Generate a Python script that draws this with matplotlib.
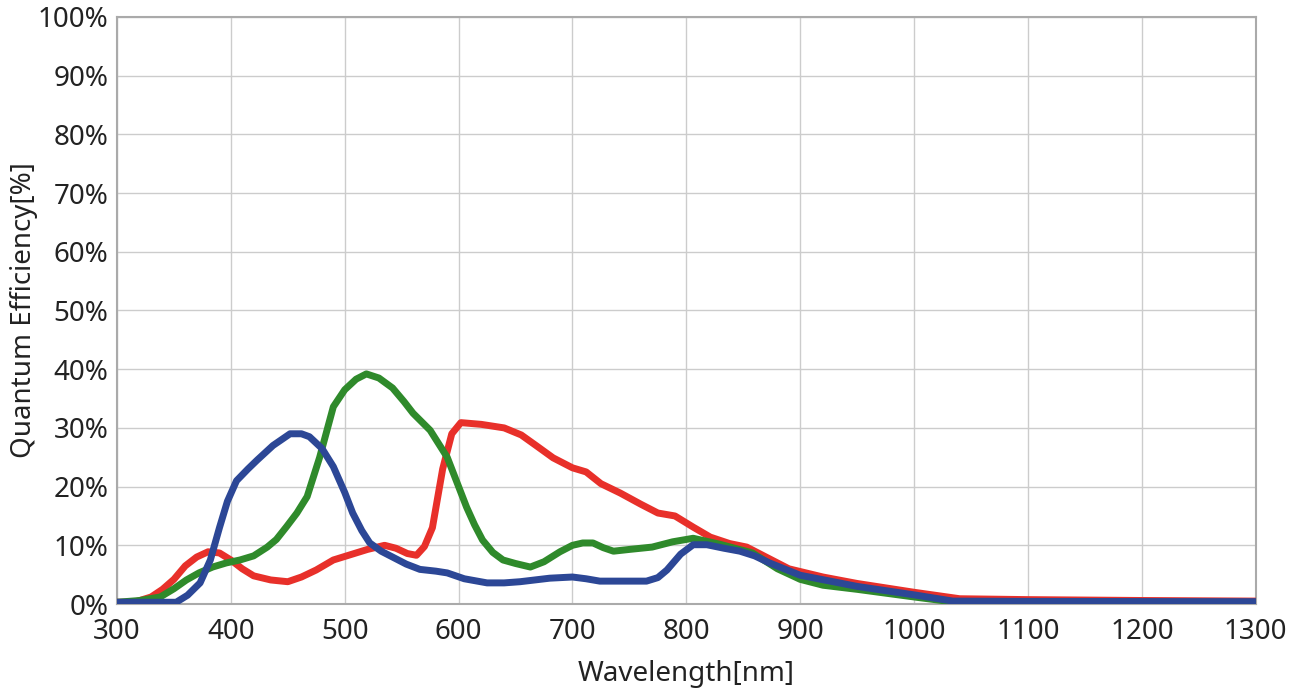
import matplotlib
matplotlib.use("Agg")
import matplotlib.pyplot as plt

# Wavelength (nm) and quantum efficiency (%) for each channel
red_wl = [300, 315, 330, 340, 350, 360, 370, 380, 390, 400, 410, 420, 435, 450, 462, 475, 490, 505, 520, 535,
          545, 555, 563, 570, 577, 586, 594, 602, 620, 640, 655, 668, 683, 700, 712, 725, 742, 760, 775, 790,
          806, 821, 838, 853, 870, 890, 920, 950, 1000, 1040, 1100, 1200, 1300]
red_qe = [0.3, 0.3, 1.2, 2.5, 4.2, 6.5, 8.0, 8.9, 8.7, 7.5, 6.0, 4.8, 4.1, 3.8, 4.6, 5.8, 7.5, 8.4, 9.3, 10.0,
          9.5, 8.6, 8.3, 9.8, 13.0, 23.0, 29.0, 30.9, 30.6, 30.0, 28.8, 27.0, 24.9, 23.2, 22.5, 20.5, 18.9, 17.0, 15.5, 15.0,
          13.1, 11.4, 10.3, 9.7, 8.0, 6.0, 4.6, 3.5, 2.0, 0.9, 0.75, 0.6, 0.5]

green_wl = [300, 320, 338, 350, 361, 372, 384, 396, 408, 420, 432, 440, 449, 458, 467, 478, 490, 500, 510, 519,
            530, 542, 552, 560, 575, 590, 600, 607, 614, 621, 630, 639, 650, 663, 675, 689, 700, 709, 718, 727,
            736, 750, 770, 788, 806, 829, 858, 880, 900, 920, 950, 1000, 1040, 1100, 1300]
green_qe = [0.3, 0.6, 1.2, 2.6, 4.1, 5.3, 6.3, 7.0, 7.5, 8.2, 9.7, 11.0, 13.2, 15.5, 18.3, 25.0, 33.6, 36.5, 38.3, 39.2,
            38.5, 36.8, 34.5, 32.5, 29.6, 25.0, 20.0, 16.5, 13.5, 10.9, 8.8, 7.5, 6.9, 6.3, 7.2, 8.9, 10.0, 10.4, 10.4, 9.6,
            9.0, 9.3, 9.7, 10.6, 11.2, 10.2, 8.7, 6.0, 4.2, 3.2, 2.5, 1.2, 0.2, 0.15, 0.1]

blue_wl = [300, 352, 362, 373, 382, 390, 397, 405, 415, 423, 437, 452, 462, 469, 480, 490, 500, 507, 515, 522,
           532, 542, 554, 566, 580, 590, 605, 625, 640, 654, 680, 700, 712, 724, 745, 765, 775, 783, 795, 806,
           818, 833, 847, 860, 873, 900, 950, 1002, 1034, 1100, 1300]
blue_qe = [0.3, 0.3, 1.5, 3.6, 7.5, 13.0, 17.5, 21.0, 23.0, 24.5, 27.0, 29.0, 29.0, 28.5, 26.5, 23.4, 19.0, 15.5, 12.5, 10.4,
           9.0, 8.0, 6.8, 5.9, 5.6, 5.3, 4.3, 3.6, 3.6, 3.8, 4.4, 4.6, 4.3, 3.9, 3.9, 3.9, 4.5, 5.8, 8.5, 10.1,
           10.1, 9.5, 9.0, 8.2, 7.0, 4.9, 3.0, 1.5, 0.5, 0.45, 0.4]

x_ticks = [300, 400, 500, 600, 700, 800, 900, 1000, 1100, 1200, 1300]
y_ticks = [0, 10, 20, 30, 40, 50, 60, 70, 80, 90, 100]
y_tick_labels = [f"{v}%" for v in y_ticks]

plt.rcParams['font.family'] = ['Noto Sans', 'DejaVu Sans']

fig = plt.figure(figsize=(13.04, 6.93), dpi=100)
ax = fig.add_axes([0.0897, 0.1284, 0.8733, 0.8471])

lw = 5.0
ax.plot(red_wl, red_qe, color='#e8302a', lw=lw, solid_capstyle='round', solid_joinstyle='round', zorder=3)
ax.plot(green_wl, green_qe, color='#2f8a2b', lw=lw, solid_capstyle='round', solid_joinstyle='round', zorder=4)
ax.plot(blue_wl, blue_qe, color='#2c4796', lw=lw, solid_capstyle='round', solid_joinstyle='round', zorder=5)

ax.set_xlim(300, 1300)
ax.set_ylim(0, 100)
ax.set_xticks(x_ticks)
ax.set_yticks(y_ticks)
ax.set_yticklabels(y_tick_labels)
ax.tick_params(axis='x', length=0, labelsize=20, colors='#222222', pad=10)
ax.tick_params(axis='y', length=0, labelsize=20, colors='#222222', pad=6)
ax.grid(True, color='#cccccc', lw=1.0)
ax.set_axisbelow(True)
for s in ax.spines.values():
    s.set_color('#aaaaaa')
    s.set_linewidth(1.5)

ax.set_xlabel('Wavelength[nm]', fontsize=20, color='#222222', labelpad=10)
ax.set_ylabel('Quantum Efficiency[%]', fontsize=20, color='#222222', labelpad=0)

fig.savefig('out.png', dpi=100)
